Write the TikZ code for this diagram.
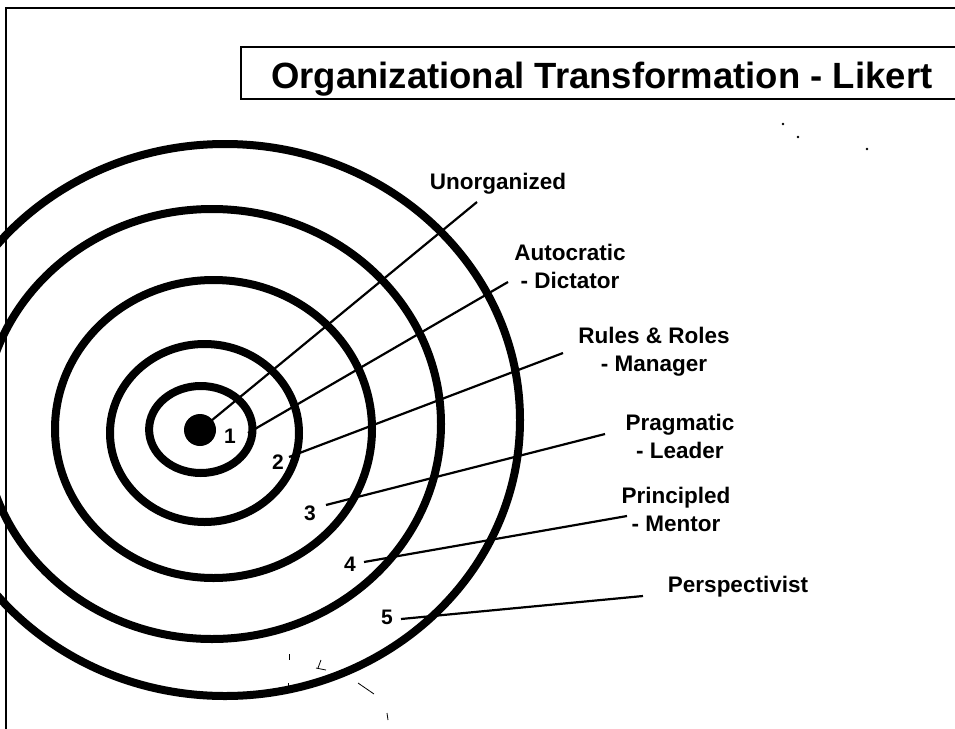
\documentclass[tikz,border=0pt]{standalone}
\usepackage{fontspec}
\setmainfont{Liberation Sans}
\begin{document}
\begin{tikzpicture}[x=1pt,y=-1pt,
  ring/.style={line width=8pt},
  leader/.style={line width=2.2pt},
  framestyle/.style={line width=2.5pt},
  lab/.style={font=\bfseries\fontsize{22.5}{28}\selectfont, align=center, inner sep=0pt, anchor=north},
  num/.style={font=\bfseries\fontsize{21}{22}\selectfont, inner sep=0pt},
  speck/.style={line width=0.8pt}]
\useasboundingbox (0,0) rectangle (955,728);
% outer frame
\draw[framestyle] (956,8) -- (6,8) -- (6,729);
% title box
\draw[line width=2pt] (957,47) -| (241,99) -- (957,99);
\node[anchor=base west, font=\bfseries\fontsize{36.5}{40}\selectfont, inner sep=0pt] (title) at (271,88) {Organizational Transformation - Likert};
% rings
\draw[ring] (225,420) ellipse [x radius=295, y radius=276];
\draw[ring] (212,424) ellipse [x radius=229, y radius=215];
\draw[ring] (213.5,429) ellipse [x radius=158.5, y radius=149];
\draw[ring] (204.5,433) ellipse [x radius=94.5, y radius=89];
\draw[ring] (200.8,429.5) ellipse [x radius=51.7, y radius=43.5];
\node[circle, fill, minimum size=32pt, inner sep=0pt] (dot) at (200,430) {};
% numbers
\node[num] (n1) at (230,436) {1};
\node[num] (n2) at (278,462) {2};
\node[num] (n3) at (310,513) {3};
\node[num] (n4) at (350,564) {4};
\node[num] (n5) at (387,617) {5};
% labels
\node[lab] (l0) at (498,173) {Unorganized};
\node[lab] (l1) at (570,244) {Autocratic\\- Dictator};
\node[lab] (l2) at (654,327) {Rules \& Roles\\- Manager};
\node[lab] (l3) at (680,414) {Pragmatic\\- Leader};
\node[lab] (l4) at (676,487) {Principled\\- Mentor};
\node[lab] (l5) at (738,576) {Perspectivist};
% leader end points
\coordinate (e0) at (477,202);
\coordinate (s1) at (248,433);
\coordinate (e1) at (508,282);
\coordinate (s2) at (289,457);
\coordinate (e2) at (563,353);
\coordinate (s3) at (326,505);
\coordinate (e3) at (605,434);
\coordinate (s4) at (364,562);
\coordinate (e4) at (627,516);
\coordinate (s5) at (401,619);
\coordinate (e5) at (643,596);
\draw[leader] (dot.center) -- (e0);
\draw[leader] (s1) -- (e1);
\draw[leader] (s2) -- (e2);
\draw[leader] (s3) -- (e3);
\draw[leader] (s4) -- (e4);
\draw[leader] (s5) -- (e5);
% scan specks
\fill (783,124) circle (1.3);
\fill (798,137) circle (1.3);
\fill (867,149) circle (1.3);
\draw[speck] (289,654) -- (289,660);
\draw[speck] (318,668) -- (321,660);
\draw[speck] (316,668) -- (326,670);
\draw[speck] (358,683) -- (374,694);
\draw[speck] (387,713) -- (388,720);
\draw[speck] (288,683) -- (288,689);
\end{tikzpicture}
\end{document}
